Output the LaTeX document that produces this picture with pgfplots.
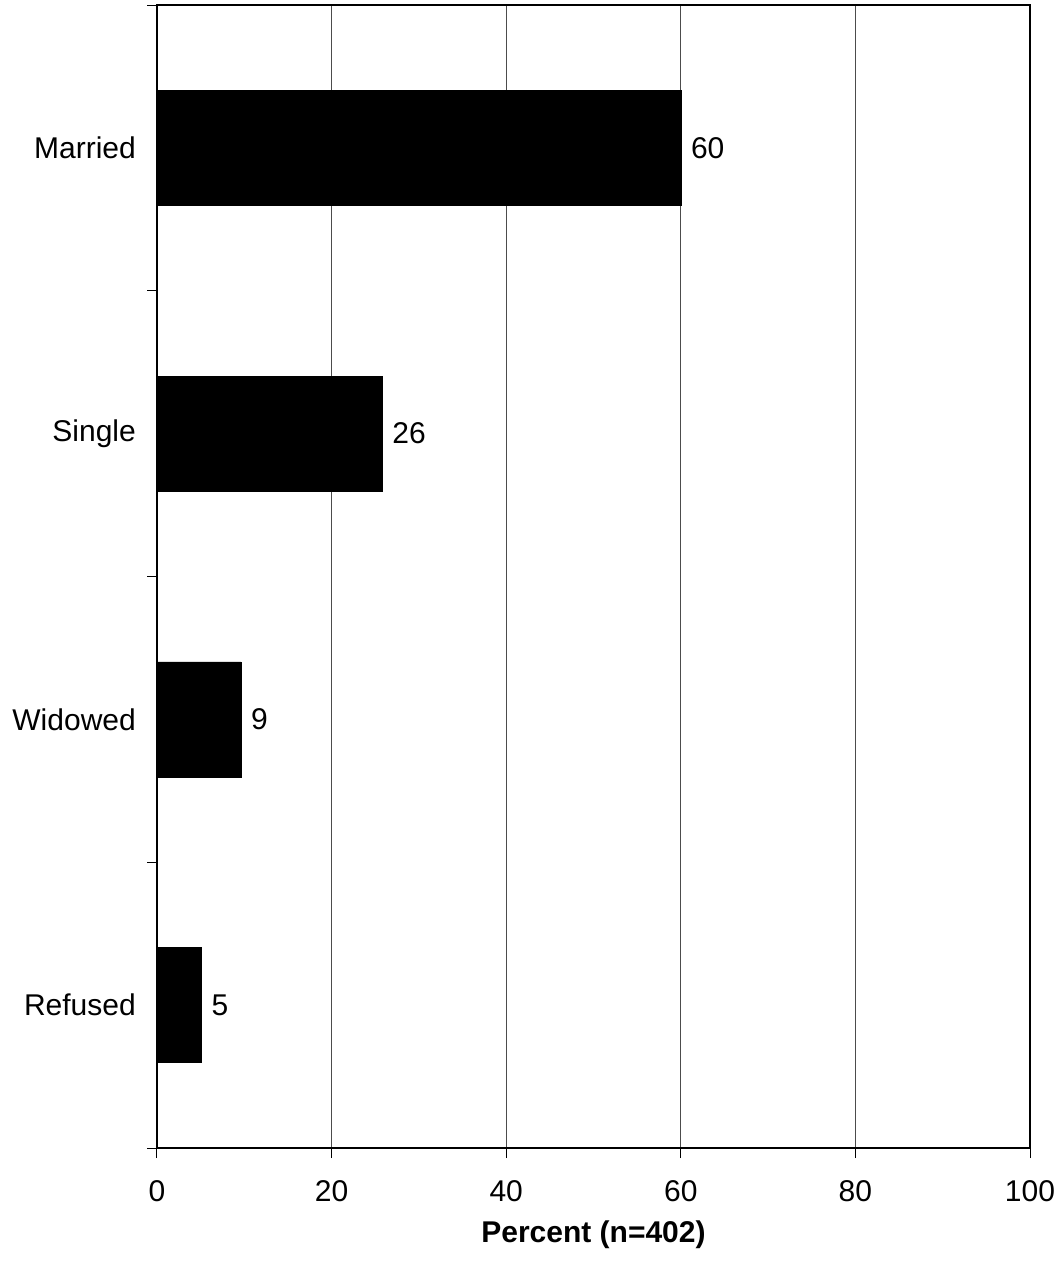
\documentclass[border=0pt]{standalone}
\usepackage{pgfplots}
\pgfplotsset{compat=1.18}
\usepackage{fontspec}
\setmainfont{Liberation Sans}
\begin{document}
\fontsize{30}{35}\selectfont
\begin{tikzpicture}
\useasboundingbox (-157pt,-116pt) rectangle (903pt,1148pt);
\begin{axis}[
  at={(0,0)}, anchor=south west,
  scale only axis,
  width=873pt, height=1143pt,
  xbar,
  xmin=0, xmax=100,
  ymin=0.5, ymax=4.5,
  xtick={0,20,40,60,80,100},
  ytick={1,2,3,4},
  yticklabels={Refused,Widowed,Single,Married},
  minor ytick={0.5,1.5,2.5,3.5,4.5},
  xtick pos=bottom, ytick pos=left,
  tick align=outside,
  major tick length=10pt,
  minor tick length=10pt,
  every major y tick/.append style={draw=none},
  every minor y tick/.append style={draw=black, line width=1pt},
  every major x tick/.append style={draw=black, line width=1pt},
  xmajorgrids,
  major grid style={line width=1pt, draw=black!70},
  axis line style={line width=2pt},
  /pgf/number format/assume math mode=true,
  tick label style={font=\fontsize{30}{35}\selectfont},
  yticklabel style={xshift=-1pt},
  xticklabel style={yshift=-12pt},
  xlabel={\bfseries Percent (n=402)},
  xlabel style={font=\fontsize{30}{35}\selectfont, yshift=1pt},
  bar width=115pt,
  nodes near coords,
  point meta=explicit symbolic,
  every node near coord/.append style={anchor=west, xshift=0pt, font=\fontsize{30}{35}\selectfont, text=black},
  clip=false,
]
\addplot[fill=black, draw=black] coordinates {(5.1,1) [5] (9.6,2) [9] (25.8,3) [26] (60,4) [60]};
\end{axis}
\end{tikzpicture}
\end{document}
